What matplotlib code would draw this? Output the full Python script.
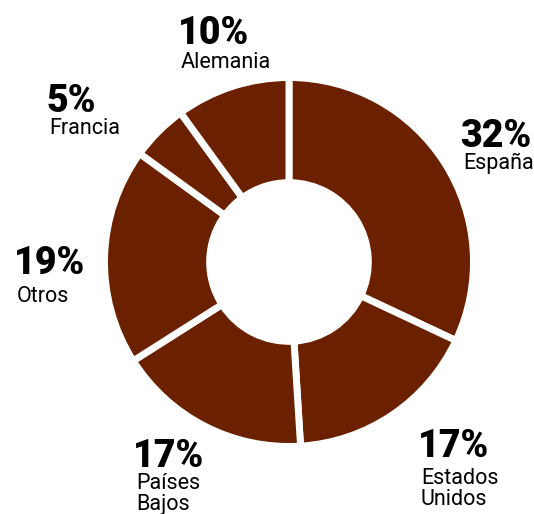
import numpy as np
import matplotlib
matplotlib.use("Agg")
import matplotlib.pyplot as plt

# data, clockwise from the top
labels = ["España", "Estados\nUnidos", "Países\nBajos", "Otros", "Francia", "Alemania"]
shares = [32, 17, 17, 19, 5, 10]

# where each label block sits (pixel x of left edge, baseline of percent, baseline of last name line)
label_pos = [(460, 147, 169), (418, 457, 505), (133, 467, 510),
             (14, 274, 302), (46, 112, 134), (178, 44, 68)]

W, H = 534, 514
brown = "#6b2100"
plt.rcParams["font.family"] = ["Roboto", "DejaVu Sans"]

fig = plt.figure(figsize=(W / 100, H / 100), dpi=100)
ax = fig.add_axes([0, 0, 1, 1])
cx, cy, r = 289, 262, 184.5

ax.pie(shares, radius=1.0, startangle=90, counterclock=False,
       colors=[brown] * len(shares),
       wedgeprops=dict(width=0.57, edgecolor="white", linewidth=5))
ax.set_xlim(-cx / r, (W - cx) / r)
ax.set_ylim(-(H - cy) / r, cy / r)
ax.axis("off")

for lab, val, (px, pb, nb) in zip(labels, shares, label_pos):
    fig.text(px / W, 1 - pb / H, f"{val}%", fontsize=27, fontweight="black",
             ha="left", va="baseline", color="black")
    fig.text((px + 3) / W, 1 - nb / H, lab, fontsize=15.5, ha="left", va="baseline",
             color="black", linespacing=1.0)

fig.savefig("out.png", dpi=100)
